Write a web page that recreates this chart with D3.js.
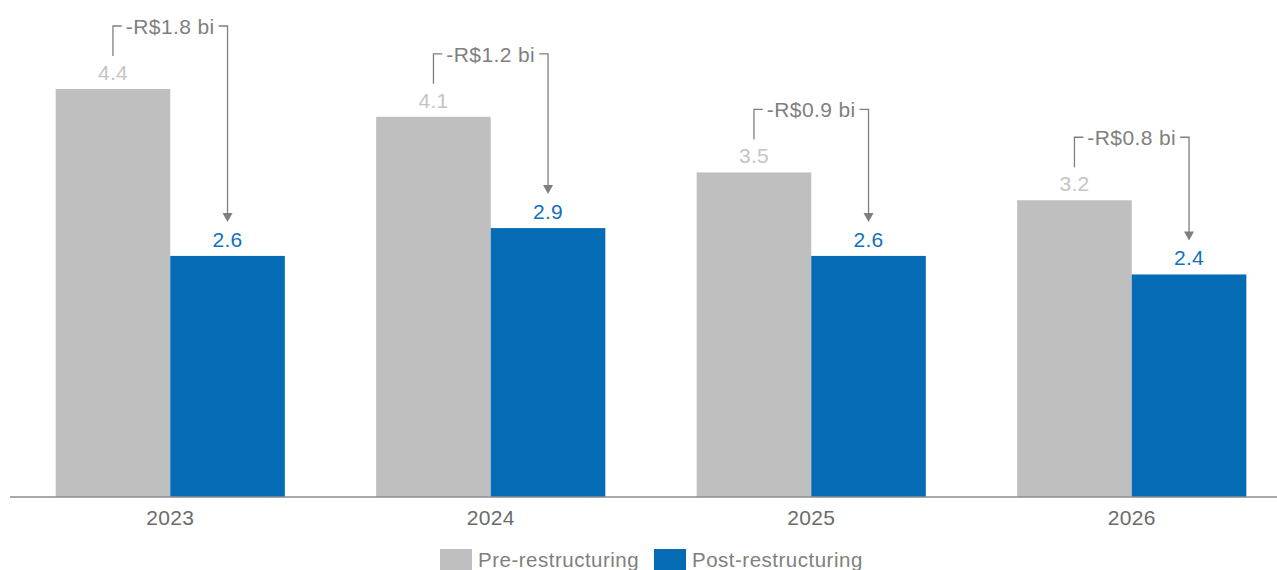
<!DOCTYPE html>
<html>
<head>
<meta charset="utf-8">
<script src="https://cdn.jsdelivr.net/npm/d3@7"></script>
<style>
  html, body { margin: 0; padding: 0; background: #ffffff; }
  svg { display: block; font-family: "Liberation Sans", Arial, sans-serif; }
</style>
</head>
<body>
<svg id="chart" width="1277" height="570"></svg>
<script>
// Yearly values, R$ billions
const years = ["2023", "2024", "2025", "2026"];
const preValues = [4.4, 4.1, 3.5, 3.2];
const postValues = [2.6, 2.9, 2.6, 2.4];
const deltaLabels = ["-R$1.8 bi", "-R$1.2 bi", "-R$0.9 bi", "-R$0.8 bi"];
const seriesNames = ["Pre-restructuring", "Post-restructuring"];

const colors = { pre: "#bfbfbf", post: "#066bb5" };
const labelColors = { pre: "#c4c4c4", post: "#1170bf" };
const annColor = "#7f7f7f";

const svg = d3.select("#chart");
const baseY = 497;

const x = d3.scaleBand()
  .domain(years)
  .range([10, 1292])
  .paddingInner(0.285)
  .paddingOuter(0.1425);

const sub = d3.scaleBand()
  .domain(["pre", "post"])
  .range([0, x.bandwidth()])
  .padding(0);

const y = d3.scaleLinear()
  .domain([0, 4.4])
  .range([baseY, 89]);

const rows = years.map((yr, i) => ({
  year: yr, pre: preValues[i], post: postValues[i], delta: deltaLabels[i]
}));

// bars and value labels
const groups = svg.append("g").selectAll("g")
  .data(rows).join("g")
  .attr("transform", d => `translate(${x(d.year)},0)`);

["pre", "post"].forEach(key => {
  groups.append("rect")
    .attr("x", sub(key))
    .attr("width", sub.bandwidth())
    .attr("y", d => y(d[key]))
    .attr("height", d => baseY - y(d[key]))
    .attr("fill", colors[key]);

  groups.append("text")
    .attr("x", sub(key) + sub.bandwidth() / 2)
    .attr("y", d => y(d[key]) - 9)
    .attr("text-anchor", "middle")
    .attr("font-size", 21)
    .attr("letter-spacing", 0.3)
    .attr("fill", labelColors[key])
    .text(d => d[key].toFixed(1));
});

// reduction brackets with arrow
groups.each(function(d) {
  const g = d3.select(this);
  const xl = sub("pre") + sub.bandwidth() / 2;
  const xr = sub("post") + sub.bandwidth() / 2;
  const xc = x.bandwidth() / 2;
  const preBase = y(d.pre) - 9;
  const postBase = y(d.post) - 9;
  const lineY = preBase - 54;
  const tipY = postBase - 25;

  const t = g.append("text")
    .attr("x", xc)
    .attr("y", lineY + 8)
    .attr("text-anchor", "middle")
    .attr("font-size", 21)
    .attr("letter-spacing", 0.4)
    .attr("fill", annColor)
    .text(d.delta);
  const w = t.node().getComputedTextLength();
  const gap = 4;

  const path = d3.path();
  path.moveTo(xl, preBase - 24);
  path.lineTo(xl, lineY);
  path.lineTo(xc - w / 2 - gap, lineY);
  path.moveTo(xc + w / 2 + gap, lineY);
  path.lineTo(xr, lineY);
  path.lineTo(xr, tipY - 8);

  g.append("path")
    .attr("d", path.toString())
    .attr("fill", "none")
    .attr("stroke", annColor)
    .attr("stroke-width", 1.3);

  g.append("path")
    .attr("d", `M${xr - 5},${tipY - 9}L${xr + 5},${tipY - 9}L${xr},${tipY}Z`)
    .attr("fill", annColor);
});

// x axis
const axis = svg.append("g")
  .attr("transform", `translate(0,${baseY})`)
  .call(d3.axisBottom(x).tickSize(0).tickPadding(13));
axis.select(".domain")
  .attr("d", `M10,0H1277`)
  .attr("stroke", "#8c8c8c")
  .attr("stroke-width", 1.6);
axis.selectAll(".tick text")
  .attr("font-size", 21)
  .attr("letter-spacing", 0.3)
  .attr("font-family", "Liberation Sans, Arial, sans-serif")
  .attr("fill", "#6b6b6b")
  .attr("dy", "0.71em");

// legend
const legend = svg.append("g");
const legendItems = [
  { name: seriesNames[0], color: colors.pre, x: 440 },
  { name: seriesNames[1], color: colors.post, x: 654 }
];
legendItems.forEach(it => {
  legend.append("rect")
    .attr("x", it.x).attr("y", 549)
    .attr("width", 32).attr("height", 32)
    .attr("fill", it.color);
  legend.append("text")
    .attr("x", it.x + 38).attr("y", 567)
    .attr("font-size", 20.5)
    .attr("letter-spacing", 0.5)
    .attr("fill", "#7f7f7f")
    .text(it.name);
});
</script>
</body>
</html>
